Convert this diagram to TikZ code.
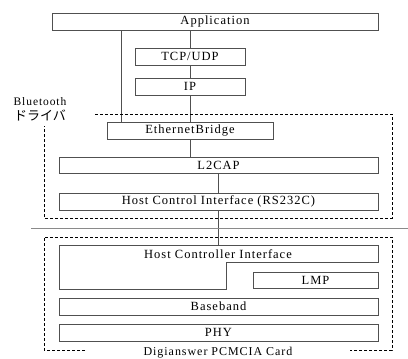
\documentclass[tikz,border=0pt]{standalone}
\usepackage{fontspec}
\setmainfont{Liberation Serif}
\newfontfamily\layerfont[LetterSpace=8]{Liberation Serif}
\newfontfamily\jpfont{Noto Sans CJK JP}
\usetikzlibrary{positioning}
\definecolor{LayerLine}{HTML}{505050}
\definecolor{SepLine}{HTML}{8A8A8A}

\tikzset{
  layer/.style={draw=LayerLine,line width=0.8pt,inner sep=0pt,
    font=\fontsize{12.5}{13}\layerfont},
  link/.style={LayerLine,line width=0.7pt},
  card/.style={black,line width=0.9pt,dash pattern=on 3pt off 2pt}
}

\begin{document}
\begin{tikzpicture}[x=1pt,y=-1pt]
    \useasboundingbox[fill=white] (0,0) rectangle (408,359);
    % host side
    \node[layer,minimum width=326pt,minimum height=17pt] (app) at (215,21.5) {Application};
    \node[layer,minimum width=110pt,minimum height=17pt] (tcp) at (190,56.5) {TCP/UDP};
    \node[layer,minimum width=110pt,minimum height=17pt] (ip) at (190,86.5) {IP};
    \node[layer,minimum width=166pt,minimum height=17pt] (bridge) at (190,130.5) {EthernetBridge};
    \node[layer,minimum width=319pt,minimum height=16pt] (l2cap) at (218.5,165) {L2CAP};
    \node[layer,minimum width=319pt,minimum height=17pt] (hcirs) at (218.5,201.5) {Host Control Interface (RS232C)};
    % card side
    \draw[LayerLine,line width=0.8pt] (59,245) -- (378,245) -- (378,262) -- (226,262)
      -- (226,289) -- (59,289) -- cycle;
    \node[font=\fontsize{12.5}{13}\layerfont] (hci) at (218,254) {Host Controller Interface};
    \coordinate (hcitop) at (219,245);
    \node[layer,minimum width=125pt,minimum height=16pt] (lmp) at (315.5,280) {LMP};
    \node[layer,minimum width=319pt,minimum height=17pt] (base) at (218.5,306.5) {Baseband};
    \node[layer,minimum width=319pt,minimum height=17pt] (phy) at (218.5,332.5) {PHY};
    % connectors
    \coordinate (side) at (121,0);
    \draw[link] (tcp.north |- app.south) -- (tcp.north);
    \draw[link] (side |- app.south) -- (side |- bridge.north);
    \draw[link] (tcp.south) -- (ip.north);
    \draw[link] (ip.south) -- (bridge.north);
    \draw[link] (bridge.south) -- (bridge.south |- l2cap.north);
    \draw[link] (l2cap.south) -- (hcirs.north);
    \draw[link] (hcirs.south) -- (hcirs.south |- hcitop);
    % host / card border
    \draw[SepLine,line width=1pt] (31,228) -- (408,228);
    % dashed groups
    \draw[card] (95,114) -- (392,114) -- (392,218) -- (44,218) -- (44,126);
    \draw[card] (85,350) -- (44,350) -- (44,237) -- (392,237) -- (392,350) -- (350,350);
    \node[font=\fontsize{11.5}{12}\layerfont] (btlabel) at (40,102) {Bluetooth};
    \node[font=\fontsize{13}{14}\jpfont,below=-3pt of btlabel] (drvlabel) {ドライバ};
    \node[font=\fontsize{12}{12}\layerfont,inner sep=0pt] (cardlabel) at (218,352.5) {Digianswer PCMCIA Card};
\end{tikzpicture}
\end{document}
